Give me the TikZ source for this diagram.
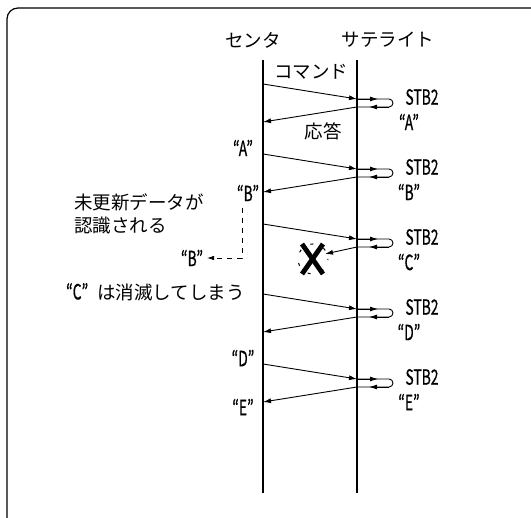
\documentclass[tikz,border=0pt]{standalone}
\usepackage{fontspec}
\setmainfont{Noto Sans CJK JP}
\newfontfamily\lat[FakeStretch=0.66,FakeBold=0.6]{Noto Sans CJK JP}
\usetikzlibrary{arrows.meta,calc}
\tikzset{
  jp/.style={font=\fontsize{18.5}{23}\selectfont, inner sep=0pt},
  lt/.style={font=\lat\fontsize{21}{23}\selectfont, inner sep=0pt},
  life/.style={line width=2pt},
  msg/.style={line width=0.9pt, -{Latex[length=8pt,width=5pt]}},
  thin/.style={line width=0.9pt},
}
\begin{document}
\begin{tikzpicture}[x=1pt,y=-1pt]
\useasboundingbox (0,0) rectangle (531,518);
\begin{scope}
\clip (0,0) rectangle (531,518);
\draw[line width=1.2pt, rounded corners=11pt] (7,8) rectangle (545,535);
\end{scope}

% titles
\node[jp] (tc) at (253,40) {センタ};
\node[jp] (ts) at (388,40) {サテライト};
% lifelines
\coordinate (ctop) at (263,60); \coordinate (cbot) at (263,493);
\coordinate (stop) at (357,60); \coordinate (sbot) at (357,493);
\draw[life] (ctop) -- (cbot);
\draw[life] (stop) -- (sbot);

\node[jp] (cmd) at (311,72) {コマンド};
\node[jp] (resp) at (323,131) {応答};

% cycles
\foreach \i/\y/\lab in {1/84/A,2/154/B,3/224/C,4/294/D,5/364/E}{
  \coordinate (cs\i) at (263,\y);
  \coordinate (sa\i) at (357,\y+15);
  \coordinate (sb\i) at (357,\y+23);
  \coordinate (ce\i) at (263,\y+38);
  \coordinate (la\i) at (378,\y+15);
  \coordinate (lb\i) at (389,\y+23);
  \coordinate (lc\i) at (369,\y+23);
  \draw[msg] (cs\i) -- (sa\i);
  \draw[thin, rounded corners=4pt] (sa\i) -- ++(36,0) -- ++(0,8) -- (sb\i);
  \draw[msg] (sa\i) -- (la\i);
  \draw[msg] (lb\i) -- (lc\i);
  \node[lt] (stb\i) at (422,\y+13) {STB2};
  \node[lt] (rl\i) at (409,\y+38) {“\lab”};
}
% responses
\draw[msg] (sb1) -- (ce1);
\draw[msg] (sb2) -- (ce2);
\draw[msg] (sb4) -- (ce4);
\draw[msg] (sb5) -- (ce5);
\coordinate (xhit) at (325,254);
\draw[msg] (sb3) -- (xhit);

% lost X
\coordinate (xc) at (313,259);
\draw[line width=1pt, dash pattern=on 3pt off 11pt, dash phase=2pt] (xc) circle[radius=15];
\draw[line width=4.8pt] (302,244) -- (323,274);
\draw[line width=4.8pt] (323,244) -- (302,274);

% left labels
\node[lt] (lA) at (243,148) {“A”};
\node[lt] (lB) at (248,193) {“B”};
\node[lt] (lD) at (243,358) {“D”};
\node[lt] (lE) at (243,407) {“E”};
\node[lt] (lB2) at (192,258) {“B”};
\coordinate (dtop) at (242,208);
\coordinate (dcorner) at (242,258);
\coordinate (dend) at (207,258);
\draw[line width=0.8pt, dash pattern=on 5pt off 5pt, -{Latex[length=7pt,width=4.5pt]}] (dtop) -- (dcorner) -- (dend);

\node[jp, anchor=west, align=left] (note1) at (74,214) {未更新データが\\認識される};
\node[jp, anchor=west] (note2) at (66,292) {{\lat\fontsize{21}{23}\selectfont “C”}\hspace{9pt}は消滅してしまう};
\end{tikzpicture}
\end{document}
